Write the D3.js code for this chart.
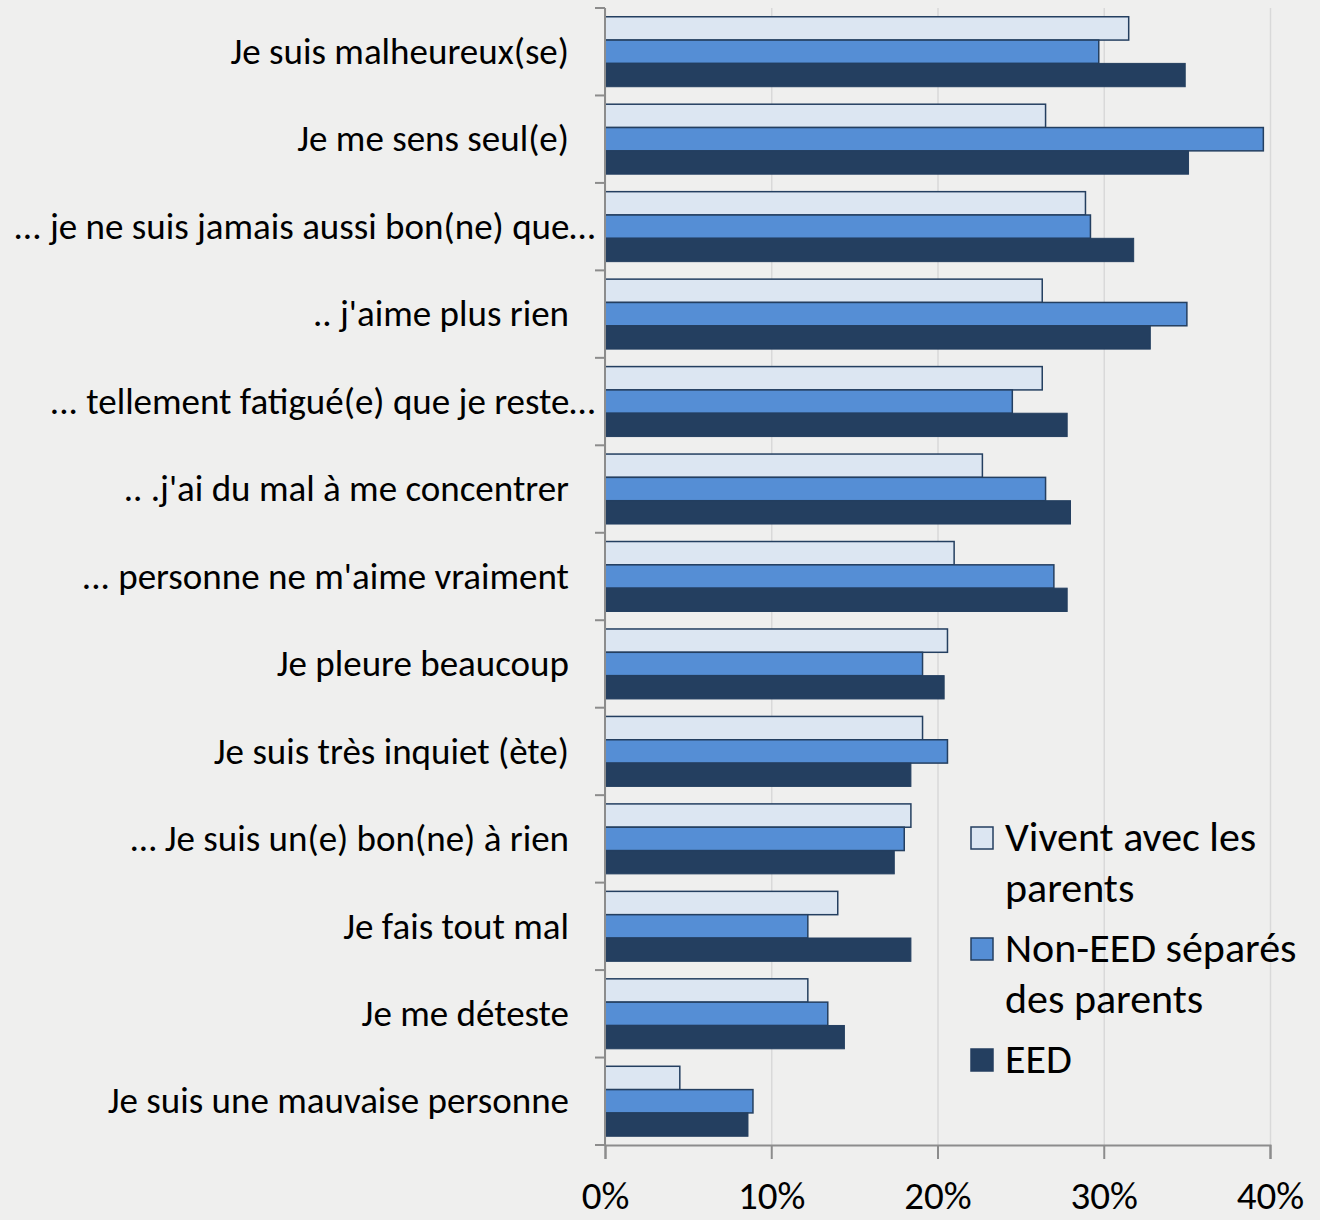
<html>
<head>
<script src="https://d3js.org/d3.v7.min.js"></script>
<style>
  body { margin: 0; background: #efefee; }
  svg text { font-family: "Carlito", "Lato", "Open Sans", sans-serif; fill: #000; }
  .grid line { stroke: #d9d9d9; stroke-width: 1.5; }
  .grid .domain { stroke: none; }
  .axis path, .axis line { stroke: #8c8c8c; stroke-width: 2; }
</style>
</head>
<body>
<svg id="chart" width="1320" height="1220"></svg>
<script>
const categories = [
  "Je suis malheureux(se)",
  "Je me sens seul(e)",
  "... je ne suis jamais aussi bon(ne) que…",
  ".. j'aime plus rien",
  "... tellement fatigué(e) que je reste…",
  ".. .j'ai du mal à me concentrer",
  "... personne ne m'aime vraiment",
  "Je pleure beaucoup",
  "Je suis très inquiet (ète)",
  "… Je suis un(e) bon(ne) à rien",
  "Je fais tout mal",
  "Je me déteste",
  "Je suis une mauvaise personne"
];
const seriesNames = ["Vivent avec les parents", "Non-EED séparés des parents", "EED"];
const vivent = [31.5, 26.5, 28.9, 26.3, 26.3, 22.7, 21.0, 20.6, 19.1, 18.4, 14.0, 12.2, 4.5];
const nonEED = [29.7, 39.6, 29.2, 35.0, 24.5, 26.5, 27.0, 19.1, 20.6, 18.0, 12.2, 13.4, 8.9];
const eed    = [34.9, 35.1, 31.8, 32.8, 27.8, 28.0, 27.8, 20.4, 18.4, 17.4, 18.4, 14.4, 8.6];
const xTicks = [0, 10, 20, 30, 40];

const fills = ["#dce6f2", "#558ed5", "#243f60"];
const strokes = ["#243f60", "#243f60", "#243f60"];

const svg = d3.select("#chart");
const plotLeft = 605, plotRight = 1270, plotTop = 8, plotBottom = 1145;

const x = d3.scaleLinear().domain([0, 40]).range([plotLeft, plotRight]);
const y = d3.scaleBand().domain(categories).range([plotTop, plotBottom]).paddingInner(0.2).paddingOuter(0.1);
const ySub = d3.scaleBand().domain([0, 1, 2]).range([0, y.bandwidth()]);

// gridlines
svg.append("g").attr("class", "grid")
  .attr("transform", `translate(0,${plotBottom})`)
  .call(d3.axisBottom(x).tickValues(xTicks).tickSize(-(plotBottom - plotTop)).tickFormat(""));

// bars
const series = [vivent, nonEED, eed];
series.forEach((vals, s) => {
  svg.append("g").selectAll("rect")
    .data(categories)
    .join("rect")
    .attr("x", x(0))
    .attr("y", c => y(c) + ySub(s))
    .attr("width", (c, i) => x(vals[i]) - x(0))
    .attr("height", ySub.bandwidth())
    .attr("fill", fills[s])
    .attr("stroke", strokes[s])
    .attr("stroke-width", s === 2 ? 1 : 1.5);
});

// y axis: category boundary ticks
const yAxis = svg.append("g").attr("class", "axis");
yAxis.append("line").attr("x1", plotLeft).attr("x2", plotLeft).attr("y1", plotTop).attr("y2", plotBottom);
const bounds = categories.map(c => y(c) - y.step() * 0.1).concat([plotBottom]);
yAxis.selectAll("line.tk").data(bounds).join("line").attr("class", "tk")
  .attr("x1", plotLeft - 10).attr("x2", plotLeft).attr("y1", d => d).attr("y2", d => d);

// x axis
const xAxis = svg.append("g").attr("class", "axis")
  .attr("transform", `translate(0,${plotBottom})`)
  .call(d3.axisBottom(x).tickValues(xTicks).tickSize(14).tickFormat(d => d + "%"));
xAxis.selectAll("text").attr("font-size", 39).attr("y", 64).attr("dy", 0);

// category labels
svg.append("g").selectAll("text")
  .data(categories)
  .join("text")
  .attr("x", c => c.endsWith("…") ? 595 : 569)
  .attr("y", c => y(c) + y.bandwidth() / 2)
  .attr("dy", "0.33em")
  .attr("text-anchor", "end")
  .attr("font-size", 37)
  .text(c => c);

// legend
const legendLines = [["Vivent avec les", "parents"], ["Non-EED séparés", "des parents"], ["EED"]];
const lg = svg.append("g").attr("transform", "translate(970,826)");
let ly = 0;
legendLines.forEach((lines, s) => {
  lg.append("rect").attr("x", 1).attr("y", ly + 1).attr("width", 22).attr("height", 22)
    .attr("fill", fills[s]).attr("stroke", strokes[s]).attr("stroke-width", 1.5);
  lines.forEach((t, k) => {
    lg.append("text").attr("x", 35).attr("y", ly + 25 + k * 51)
      .attr("font-size", 42).text(t);
  });
  ly += 111;
});
</script>
</body>
</html>
